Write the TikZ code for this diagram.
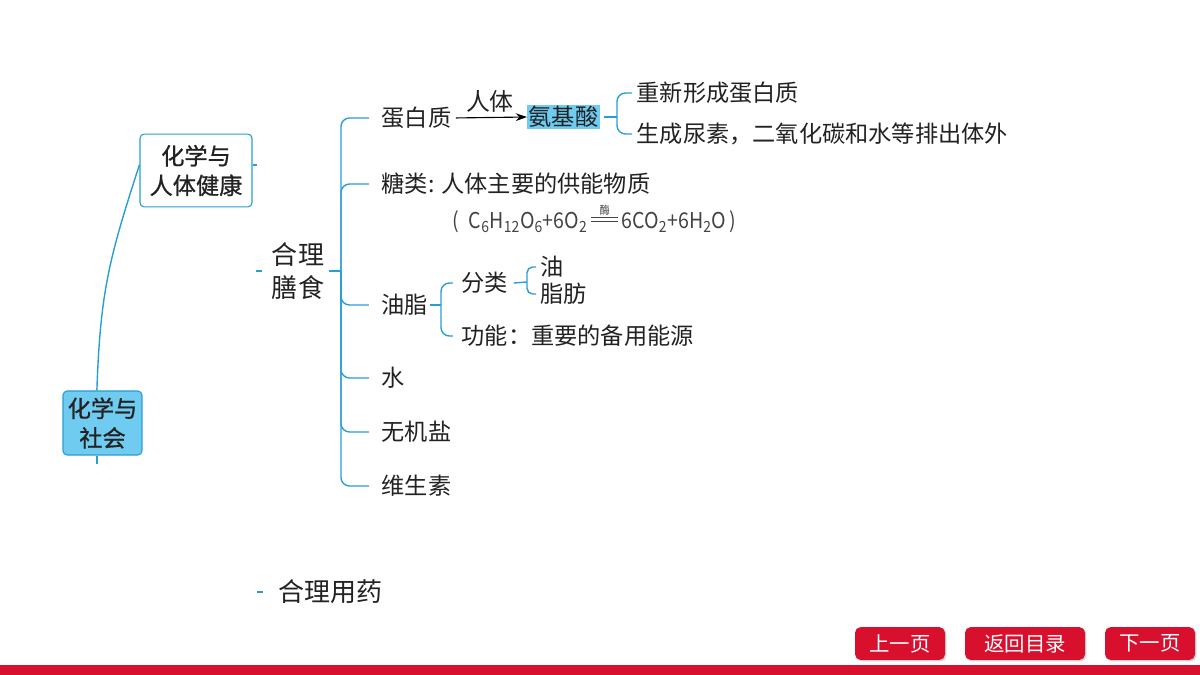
\documentclass[tikz,border=0pt]{standalone}
\usepackage{fontspec}
\usepackage{graphicx}
\setmainfont{Noto Sans CJK SC}
\newfontfamily\topicfont[FakeBold=0.9]{Noto Sans CJK SC}
\usetikzlibrary{positioning, arrows.meta, shadows}

\definecolor{mapblue}{HTML}{2A9ED2}
\definecolor{boxblue}{HTML}{6FCBF0}
\definecolor{btnred}{HTML}{D8102E}
\definecolor{inkgray}{HTML}{222222}

% 酶 over a double line
\newcommand{\enzeq}{\raisebox{0.28em}{\vbox{\hbox to 1.4em{\hss\fontsize{8}{8}\selectfont 酶\hss}\kern1pt\hrule height0.6pt width1.4em\kern2.2pt\hrule height0.6pt width1.4em}}}
\newcommand{\sub}[1]{\textsubscript{\fontsize{11}{11}\selectfont #1}}

\begin{document}
\begin{tikzpicture}[x=0.025cm, y=-0.025cm,
		branch/.style={draw=mapblue, line width=1pt, rounded corners=6pt},
		leaf/.style={anchor=west, inner xsep=1pt, inner ysep=2pt, text=inkgray, font=\fontsize{16.5}{20}\selectfont},
		topic/.style={draw=mapblue, rounded corners=3pt, line width=0.8pt, align=center, text=inkgray, font=\fontsize{16.5}{21}\topicfont},
		btn/.style={fill=btnred, rounded corners=4pt, text=white, minimum height=0.82cm, drop shadow={opacity=0.35, shadow xshift=1pt, shadow yshift=-1pt}, font=\fontsize{14.5}{17}\selectfont}]
		
		\useasboundingbox (0,0) rectangle (1200,675);
		
		% --- Tematy ---
		\node[topic, fill=white, minimum width=2.8cm, minimum height=1.82cm] (jkbox) at (196,170.5) {化学与\\人体健康};
		\node[topic, fill=boxblue, minimum width=1.92cm, minimum height=1.6cm] (shbox) at (102.5,423) {化学与\\社会};
		\draw[branch] ([xshift=-4pt]shbox.north) to[out=88, in=252, looseness=1.1] ([yshift=4pt]jkbox.west);
		\draw[branch] ([xshift=-4pt]shbox.south) -- ++(0,8);
		\draw[branch] ([yshift=4pt]jkbox.east) -- ++(4,0);
		
		% --- 合理膳食 ---
		\node[align=center, inner sep=1pt, text=inkgray, font=\fontsize{18.5}{23.5}\selectfont] (hlss) at (298,271) {合理\\膳食};
		\coordinate (spine) at (341,271);
		\draw[branch] ([xshift=-10pt]hlss.west) -- ++(6,0);
		\draw[branch] ([xshift=2pt]hlss.east) -- (spine);
		
		\node[leaf] (dbz) at (380,118) {蛋白质};
		\node[leaf] (tl) at (380,184) {糖类: 人体主要的供能物质};
		\node[leaf] (yz) at (380,305) {油脂};
		\node[leaf] (shui) at (380,378) {水};
		\node[leaf] (wjy) at (380,432) {无机盐};
		\node[leaf] (wss) at (380,486) {维生素};
		\foreach \n in {dbz,tl,yz,shui,wjy,wss}
			\draw[branch, shorten <=8pt] (\n.west) -| (spine);
		
		% 蛋白质 -> 氨基酸
		\node[leaf, fill=boxblue, inner sep=1pt] (ajs) at (527,117) {氨基酸};
		\draw[-{Stealth[length=8pt, width=5.5pt]}, line width=0.8pt, shorten <=2pt] (dbz.east) -- node[above, inner sep=3pt, text=inkgray, font=\fontsize{17}{20}\selectfont] (rt) {人体} (ajs.west);
		\coordinate (ajsfork) at (617,117);
		\draw[branch] ([xshift=3pt]ajs.east) -- (ajsfork);
		\node[leaf] (cx1) at (635,93) {重新形成蛋白质};
		\node[leaf] (cx2) at (635,134) {生成尿素，二氧化碳和水等排出体外};
		\foreach \n in {cx1,cx2}
			\draw[branch, shorten <=2pt] (\n.west) -| (ajsfork);
		
		% reakcja
		\node[anchor=west, inner sep=0pt, text=inkgray!85, font=\fontsize{15.5}{18}\selectfont] (gs) at (452,219) {\scalebox{0.9}[1]{(\; C\sub{6}H\sub{12}O\sub{6}+6O\sub{2}\,\enzeq\,6CO\sub{2}+6H\sub{2}O\,)}};
		
		% 油脂
		\coordinate (yzfork) at (441,305);
		\draw[branch] (yz.east) -- (yzfork);
		\node[leaf] (fl) at (460,283) {分类};
		\node[leaf] (gn) at (460,336) {功能：重要的备用能源};
		\foreach \n in {fl,gn}
			\draw[branch, shorten <=5pt] (\n.west) -| (yzfork);
		\coordinate (flfork) at (527,282);
		\draw[branch] ([xshift=3pt]fl.east) -- (flfork);
		\node[leaf] (you) at (539,267) {油};
		\node[leaf] (zf) at (539,294) {脂肪};
		\foreach \n in {you,zf}
			\draw[branch, rounded corners=4pt, shorten <=2pt] (\n.west) -| (flfork);
		
		% --- 合理用药 ---
		\node[anchor=west, inner sep=1pt, text=inkgray, font=\fontsize{18.5}{22}\selectfont] (hlyy) at (277,592) {合理用药};
		\draw[branch] ([xshift=-14pt]hlyy.west) -- ++(6,0);
		
		% --- Przyciski ---
		\fill[btnred] (0,665) rectangle (1200,675);
		\node[btn, minimum width=2.25cm] (prevbtn) at (900,643.5) {上一页};
		\node[btn, minimum width=3cm] (homebtn) at (1025,643.5) {返回目录};
		\node[btn, minimum width=2.25cm] (nextbtn) at (1150,643.5) {下一页};
		
	\end{tikzpicture}
\end{document}
